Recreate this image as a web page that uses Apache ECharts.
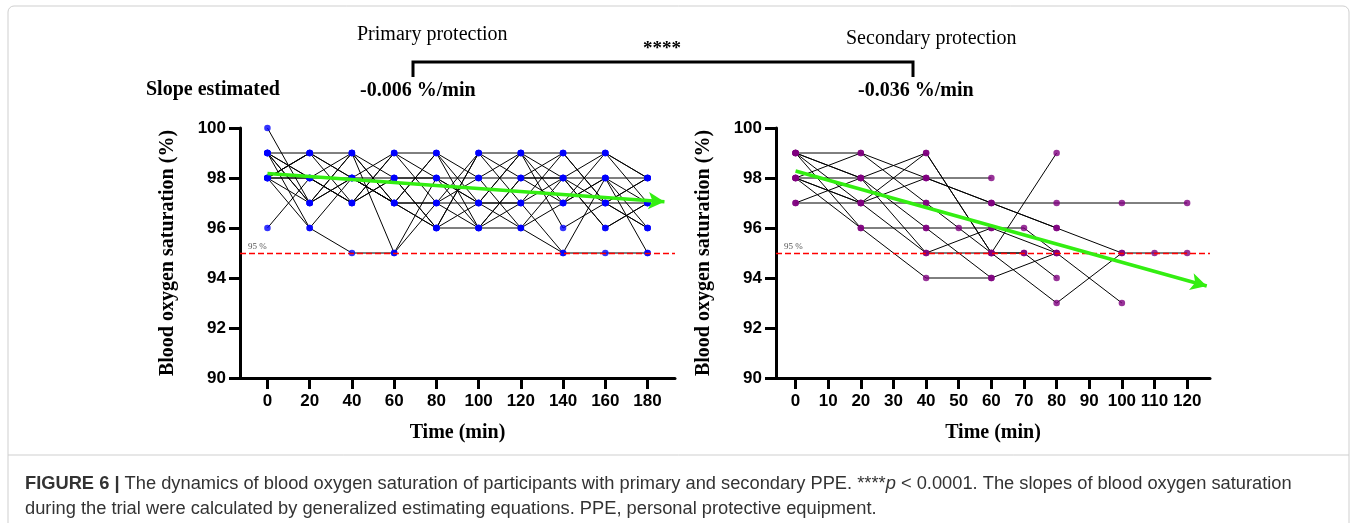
<!DOCTYPE html>
<html>
<head>
<meta charset="utf-8">
<script src="https://cdn.jsdelivr.net/npm/echarts@6/dist/echarts.min.js"></script>
<style>html,body{margin:0;padding:0;background:#fff}#c{width:1357px;height:523px}</style>
</head>
<body>
<div id="c"></div>
<script>
// ---------- DATA ----------
const primaryTimes = [0, 20, 40, 60, 80, 100, 120, 140, 160, 180];
const primarySubjects = [
  [100, 97, 98, 97, 96, 97, 99, 98, 96, 97],
  [99, 99, 99, 98, 98, 98, 98, 98, 98, 98],
  [99, 98, 97, 99, 97, 96, 97, 99, 97, 96],
  [99, 97, 99, 97, 97, 97, 97, 97, 97, 97],
  [98, 99, 98, 99, 99, 96, 98, 97, 99, 98],
  [98, 98, 99, 95, 97, 99, 99, 99, 99, 97],
  [98, 96, 95, 95, 98, 97, 96, 95, 95, 95],
  [96, 98, 97, 98, 96, 96, 96, 97, 98, 96],
  [98, 97, 99, 97, 99, 98, 99, 96, 97, 98],
  [99, 98, 98, 98, 96, 99, 98, 98, 96, 97],
  [98, 99, 97, 98, 98, 97, 97, 95, 98, 95],
  [99, 96, 98, 97, 97, 98, 96, 98, 97, 98],
  [98, 98, 97, 99, 98, 96, 98, 99, 97, 96],
  [99, 97, 98, 97, 99, 97, 99, 97, 98, 97],
  [98, 99, 98, 97, 96, 99, 97, 98, 99, 98]
];
const secondaryTimes = [0, 10, 20, 30, 40, 50, 60, 70, 80, 90, 100, 110, 120];
const secondarySubjects = [
  [99, null, 99, null, 98, null, 97, null, 96, null, 95, 95, 95],
  [97, null, 97, null, 97, null, 97, null, 97, null, 97, null, 97],
  [98, null, 98, null, 98, null, 98, null, null, null, null, null, null],
  [99, null, 98, null, 96, 96, 96, 96, 95, null, 93, null, null],
  [98, null, 99, null, 97, null, 95, null, 99, null, null, null, null],
  [99, null, 97, null, 95, null, 95, 95, 94, null, null, null, null],
  [97, null, 98, null, 99, null, 95, null, 93, null, 95, null, null],
  [98, null, 96, null, 96, null, 94, null, 95, null, null, null, null],
  [99, null, 96, null, 94, null, 94, null, null, null, null, null, null],
  [98, null, 97, null, 99, null, 95, 95, null, null, null, null, null],
  [99, null, 98, null, 95, null, 96, null, 95, null, null, null, null],
  [98, null, 97, null, 98, null, 97, null, 96, null, null, null, null]
];
const primaryTicks = [0, 20, 40, 60, 80, 100, 120, 140, 160, 180];
const secondaryTicks = [0, 10, 20, 30, 40, 50, 60, 70, 80, 90, 100, 110, 120];
const threshold = 95;
const primaryTrend = [[0, 98.18], [188, 97.05]];
const secondaryTrend = [[0, 98.28], [126, 93.68]];
const slopes = ['-0.006 %/min', '-0.036 %/min'];
const groupNames = ['Primary protection', 'Secondary protection'];

// ---------- CHART ----------
const SERIF = '"Liberation Serif","Times New Roman",serif';
const SANS = '"Liberation Sans",Arial,sans-serif';
const chart = echarts.init(document.getElementById('c'), null, {renderer: 'canvas'});

function xAxisCfg(idx, min, max, ticks) {
  return {
    gridIndex: idx, type: 'value', min: min, max: max,
    name: 'Time (min)', nameLocation: 'middle', nameGap: 45,
    nameTextStyle: {fontFamily: SERIF, fontWeight: 'bold', fontSize: 20, color: '#000'},
    axisLine: {show: true, onZero: false, lineStyle: {color: '#000', width: 3}},
    axisTick: {show: true, length: 11, customValues: ticks, lineStyle: {color: '#000', width: 3}},
    axisLabel: {customValues: ticks, margin: 15, fontFamily: SANS, fontWeight: 'bold', fontSize: 17, color: '#000'},
    splitLine: {show: false}
  };
}
function yAxisCfg(idx) {
  return {
    gridIndex: idx, type: 'value', min: 90, max: 100, interval: 2,
    name: 'Blood oxygen saturation (%)', nameLocation: 'middle', nameGap: 62,
    nameTextStyle: {fontFamily: SERIF, fontWeight: 'bold', fontSize: 20, color: '#000'},
    axisLine: {show: true, onZero: false, lineStyle: {color: '#000', width: 3}},
    axisTick: {show: true, length: 11, lineStyle: {color: '#000', width: 3}},
    axisLabel: {margin: 14, fontFamily: SANS, fontWeight: 'bold', fontSize: 17, color: '#000'},
    splitLine: {show: false}
  };
}

const series = [];
function addGroup(idx, times, subjects, dotColor, trend) {
  subjects.forEach(function (vals) {
    series.push({
      type: 'line', xAxisIndex: idx, yAxisIndex: idx, showSymbol: false, connectNulls: true,
      silent: true, z: 2, animation: false,
      lineStyle: {color: '#000', width: 1},
      data: times.map(function (t, i) { return vals[i] == null ? [t, null] : [t, vals[i]]; })
    });
  });
  const pts = [];
  subjects.forEach(function (vals) {
    times.forEach(function (t, i) { if (vals[i] != null) pts.push([t, vals[i]]); });
  });
  series.push({
    type: 'line', xAxisIndex: idx, yAxisIndex: idx, data: [], z: 1, animation: false,
    markLine: {
      silent: true, symbol: ['none', 'none'], animation: false,
      lineStyle: {color: '#ff0000', type: [6, 3], width: 1.3},
      label: {show: true, position: 'insideStartTop', formatter: '95 %', fontFamily: SERIF, fontSize: 9, color: '#555', distance: [8, 2]},
      data: [{yAxis: threshold}]
    }
  });
  series.push({
    type: 'scatter', xAxisIndex: idx, yAxisIndex: idx, data: pts, symbolSize: 6.5, z: 4,
    itemStyle: {color: dotColor}, animation: false
  });
  series.push({
    type: 'line', xAxisIndex: idx, yAxisIndex: idx, data: [], z: 5, animation: false,
    markLine: {
      silent: true, animation: false, symbol: ['none', 'arrow'], symbolSize: [13, 16],
      lineStyle: {color: '#33ee11', type: 'solid', width: 3.5},
      label: {show: false},
      data: [[{coord: trend[0]}, {coord: trend[1]}]]
    }
  });
}
addGroup(0, primaryTimes, primarySubjects, '#0000ff', primaryTrend);
addGroup(1, secondaryTimes, secondarySubjects, '#800080', secondaryTrend);

chart.setOption({
  animation: false,
  backgroundColor: '#fff',
  grid: [
    {left: 240, top: 128, width: 435, height: 250},
    {left: 776, top: 128, width: 434, height: 250}
  ],
  xAxis: [xAxisCfg(0, -13, 193, primaryTicks), xAxisCfg(1, -6, 127, secondaryTicks)],
  yAxis: [yAxisCfg(0), yAxisCfg(1)],
  series: series,
  graphic: [
    {type: 'rect', shape: {x: 8, y: 6, width: 1341, height: 560, r: 6}, style: {fill: 'none', stroke: '#cfcfcf', lineWidth: 1}, silent: true},
    {type: 'line', shape: {x1: 8, y1: 455, x2: 1349, y2: 455}, style: {stroke: '#cfcfcf', lineWidth: 1}, silent: true},
    {type: 'text', left: 357, top: 25, style: {text: groupNames[0], font: '20px ' + SERIF, fill: '#000'}},
    {type: 'text', left: 846, top: 29, style: {text: groupNames[1], font: '20px ' + SERIF, fill: '#000'}},
    {type: 'text', left: 643, top: 40, style: {text: '****', font: 'bold 19px ' + SERIF, fill: '#000'}},
    {type: 'polyline', shape: {points: [[413, 77], [413, 62], [913, 62], [913, 77]]}, style: {stroke: '#000', lineWidth: 3, fill: 'none'}},
    {type: 'text', left: 146, top: 80, style: {text: 'Slope estimated', font: 'bold 20px ' + SERIF, fill: '#000'}},
    {type: 'text', left: 360, top: 81, style: {text: slopes[0], font: 'bold 20px ' + SERIF, fill: '#000'}},
    {type: 'text', left: 858, top: 81, style: {text: slopes[1], font: 'bold 20px ' + SERIF, fill: '#000'}},
    {type: 'text', left: 25, top: 471, style: {
      text: '{b|FIGURE 6 |} The dynamics of blood oxygen saturation of participants with primary and secondary PPE. ****{i|p} < 0.0001. The slopes of blood oxygen saturation\nduring the trial were calculated by generalized estimating equations. PPE, personal protective equipment.',
      font: '18.3px ' + SANS, fill: '#333', lineHeight: 25,
      rich: {b: {fontFamily: SANS, fontWeight: 'bold', fontSize: 18.3, fill: '#333', lineHeight: 25}, i: {fontFamily: SANS, fontStyle: 'italic', fontSize: 18.3, fill: '#333', lineHeight: 25}}
    }}
  ]
});
</script>
</body>
</html>
